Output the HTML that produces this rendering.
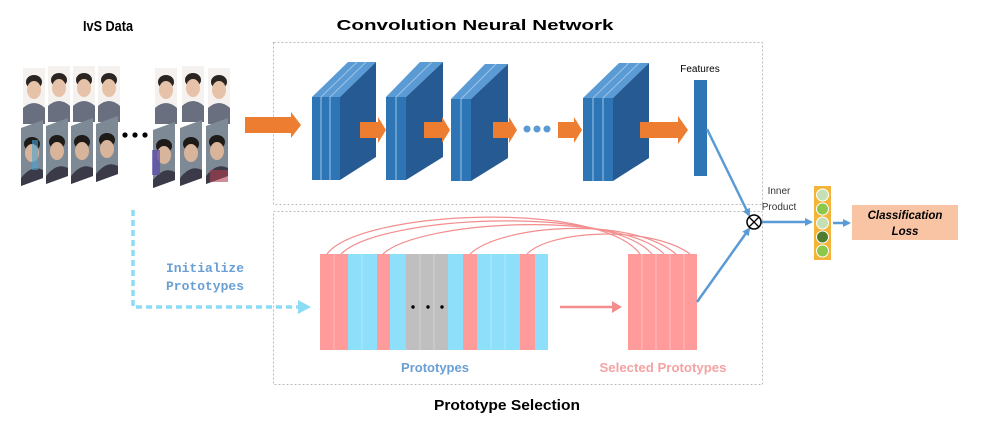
<!DOCTYPE html>
<html><head><meta charset="utf-8"><style>
html,body{margin:0;padding:0;background:#fff}
svg{display:block}
.s{font-family:"Liberation Sans",sans-serif}
.m{font-family:"Liberation Mono",monospace}
</style></head><body>
<svg width="1004" height="425" viewBox="0 0 1004 425" xmlns="http://www.w3.org/2000/svg">
<defs>
<marker id="ab" markerWidth="8" markerHeight="8" refX="6" refY="4" orient="auto" markerUnits="userSpaceOnUse"><path d="M0,0 L8,4 L0,8 z" fill="#5b9bd5"/></marker>
<g id="face">
<rect x="0" y="0" width="22" height="56" fill="#f4f1ee"/>
<ellipse cx="11" cy="14" rx="8" ry="7" fill="#2a2522"/>
<ellipse cx="11" cy="22" rx="7" ry="9" fill="#e6c2a8"/>
<path d="M0,40 Q11,30 22,40 L22,56 L0,56 z" fill="#6a6f80"/>
</g>
<g id="face2">
<path d="M0,8 L22,0 L22,58 L0,66 z" fill="#7d8a96"/>
<ellipse cx="11" cy="24" rx="8" ry="7" fill="#1d1a18"/>
<ellipse cx="11" cy="33" rx="7" ry="9" fill="#d8b49a"/>
<path d="M0,58 Q11,44 22,50 L22,58 L0,66 z" fill="#3a3a48"/>
</g>
</defs>

<g class="s">
<text x="108" y="31" font-size="15" font-weight="bold" text-anchor="middle" textLength="50" lengthAdjust="spacingAndGlyphs">IvS Data</text>
<text x="475" y="30" font-size="15" font-weight="bold" text-anchor="middle" textLength="277" lengthAdjust="spacingAndGlyphs">Convolution Neural Network</text>
<text x="507" y="410" font-size="15" font-weight="bold" text-anchor="middle" textLength="146" lengthAdjust="spacingAndGlyphs">Prototype Selection</text>
</g>

<g>
<use href="#face" x="23" y="68"/><use href="#face" x="48" y="66"/><use href="#face" x="73" y="66"/><use href="#face" x="98" y="66"/>
<use href="#face2" x="21" y="120"/><use href="#face2" x="46" y="118"/><use href="#face2" x="71" y="118"/><use href="#face2" x="96" y="116"/>
<use href="#face" x="155" y="68"/><use href="#face" x="182" y="66"/><use href="#face" x="208" y="68"/>
<use href="#face2" x="153" y="122"/><use href="#face2" x="180" y="120"/><use href="#face2" x="206" y="118"/>
<rect x="32" y="140" width="6" height="30" fill="#4aa3d6" opacity=".6"/>
<rect x="152" y="150" width="8" height="25" fill="#5a49a8" opacity=".7"/>
<rect x="210" y="170" width="18" height="12" fill="#b04050" opacity=".6"/>
</g>
<circle cx="125" cy="135" r="2.6" fill="#000"/><circle cx="135" cy="135" r="2.6" fill="#000"/><circle cx="145" cy="135" r="2.6" fill="#000"/>

<rect x="273.5" y="42.5" width="489" height="162" fill="none" stroke="#bbb" stroke-dasharray="2,2"/>
<rect x="273.5" y="211.5" width="489" height="173" fill="none" stroke="#bbb" stroke-dasharray="2,2"/>

<!-- conv blocks -->
<path d="M312,97 L348,62 L376,62 L340,97 z" fill="#5b9bd5"/>
<path d="M340,97 L376,62 L376,157 L340,180 z" fill="#255b92"/>
<rect x="312" y="97" width="28" height="83" fill="#2e75b6"/>
<path d="M321,97 V180 M330,97 V180 M321,97 L357,62 M330,97 L366,62" stroke="#9dc3e6" stroke-width="1"/>
<path d="M386,97 L420,62 L443,62 L406,97 z" fill="#5b9bd5"/>
<path d="M406,97 L443,62 L443,157 L406,180 z" fill="#255b92"/>
<rect x="386" y="97" width="20" height="83" fill="#2e75b6"/>
<path d="M396,97 V180 M396,97 L432,62" stroke="#9dc3e6"/>
<path d="M451,99 L485,64 L508,64 L471,99 z" fill="#5b9bd5"/>
<path d="M471,99 L508,64 L508,158 L471,181 z" fill="#255b92"/>
<rect x="451" y="99" width="20" height="82" fill="#2e75b6"/>
<path d="M461,99 V181 M461,99 L496,64" stroke="#9dc3e6"/>
<path d="M583,98 L619,63 L649,63 L613,98 z" fill="#5b9bd5"/>
<path d="M613,98 L649,63 L649,158 L613,181 z" fill="#255b92"/>
<rect x="583" y="98" width="30" height="83" fill="#2e75b6"/>
<path d="M593,98 V181 M603,98 V181 M593,98 L629,63 M603,98 L639,63" stroke="#9dc3e6"/>

<!-- orange arrows (on top) -->
<g fill="#ed7d31">
<path d="M245,117 L291,117 L291,112 L301,125 L291,138 L291,133 L245,133 z"/>
<path d="M360,122 L378,122 L378,117 L386,130 L378,143 L378,138 L360,138 z"/>
<path d="M424,122 L442,122 L442,117 L450,130 L442,143 L442,138 L424,138 z"/>
<path d="M493,122 L509,122 L509,117 L517,130 L509,143 L509,138 L493,138 z"/>
<path d="M558,122 L574,122 L574,117 L582,130 L574,143 L574,138 L558,138 z"/>
<path d="M640,122 L678,122 L678,116 L688,130 L678,144 L678,138 L640,138 z"/>
</g>
<g fill="#5b9bd5"><circle cx="527" cy="129" r="3.5"/><circle cx="537" cy="129" r="3.5"/><circle cx="547" cy="129" r="3.5"/></g>

<rect x="694" y="80" width="13" height="96" fill="#2e75b6"/>
<text class="s" x="700" y="72" font-size="10" text-anchor="middle">Features</text>

<path d="M133,210 V307 H298" fill="none" stroke="#8ddcf5" stroke-width="3.5" stroke-dasharray="6,4"/>
<path d="M298,300 L311,307 L298,314 z" fill="#8ddcf5"/>
<text class="m" x="205" y="272" font-size="13" font-weight="bold" fill="#6a9fd4" text-anchor="middle">Initialize</text>
<text class="m" x="205" y="290" font-size="13" font-weight="bold" fill="#6a9fd4" text-anchor="middle">Prototypes</text>

<g>
<rect x="320" y="254" width="28" height="96" fill="#ff9b9b"/>
<rect x="348" y="254" width="29" height="96" fill="#8ee0fa"/>
<rect x="377" y="254" width="13" height="96" fill="#ff9b9b"/>
<rect x="390" y="254" width="16" height="96" fill="#8ee0fa"/>
<rect x="406" y="254" width="42" height="96" fill="#bfbfbf"/>
<rect x="448" y="254" width="15" height="96" fill="#8ee0fa"/>
<rect x="463" y="254" width="14" height="96" fill="#ff9b9b"/>
<rect x="477" y="254" width="43" height="96" fill="#8ee0fa"/>
<rect x="520" y="254" width="15" height="96" fill="#ff9b9b"/>
<rect x="535" y="254" width="13" height="96" fill="#8ee0fa"/>
<path d="M334,254V350 M362,254V350 M420,254V350 M434,254V350 M491,254V350 M505,254V350" stroke="#fff" stroke-opacity=".3"/>
</g>
<circle cx="413" cy="307" r="1.7" fill="#000"/><circle cx="428" cy="307" r="1.7" fill="#000"/><circle cx="442" cy="307" r="1.7" fill="#000"/>
<rect x="628" y="254" width="69" height="96" fill="#ff9b9b"/>
<path d="M642,254V350 M656,254V350 M670,254V350 M684,254V350" stroke="#fff" stroke-opacity=".35"/>
<path d="M560,307 H614" stroke="#f28e8e" stroke-width="2.5"/>
<path d="M612,301 L622,307 L612,313 z" fill="#f28e8e"/>

<g fill="none" stroke="#f28e8e" stroke-width="1.2">
<path d="M327,254 C360,210 600,200 640,254"/>
<path d="M341,254 C380,215 610,205 652,254"/>
<path d="M383,254 C420,220 620,210 664,254"/>
<path d="M470,254 C500,225 630,215 676,254"/>
<path d="M527,254 C550,230 650,225 690,254"/>
</g>

<text class="s" x="435" y="372" font-size="13" font-weight="bold" fill="#6a9fd4" text-anchor="middle">Prototypes</text>
<text class="s" x="663" y="372" font-size="13" font-weight="bold" fill="#f4a3a3" text-anchor="middle" textLength="127" lengthAdjust="spacingAndGlyphs">Selected Prototypes</text>

<g stroke="#5b9bd5" stroke-width="2.5" fill="none">
<path d="M707,129 L749,215" marker-end="url(#ab)"/>
<path d="M697,302 L749,229" marker-end="url(#ab)"/>
<path d="M761,222 L811,222" marker-end="url(#ab)"/>
<path d="M833,223 L849,223" marker-end="url(#ab)"/>
</g>
<circle cx="754" cy="222" r="7" fill="#fff" stroke="#000" stroke-width="1.5"/>
<path d="M749,217 L759,227 M759,217 L749,227" stroke="#000" stroke-width="1.3"/>
<text class="s" x="779" y="194" font-size="10" text-anchor="middle" fill="#333">Inner</text>
<text class="s" x="779" y="210" font-size="10" text-anchor="middle" fill="#333">Product</text>

<rect x="814" y="186" width="17" height="74" fill="#f2b53a"/>
<g stroke="#fff" stroke-width="1">
<circle cx="822.5" cy="195" r="6" fill="#c5e0b4"/>
<circle cx="822.5" cy="209" r="6" fill="#8cc84b"/>
<circle cx="822.5" cy="223" r="6" fill="#c5e0b4"/>
<circle cx="822.5" cy="237" r="6" fill="#4e7d30"/>
<circle cx="822.5" cy="251" r="6" fill="#8cc84b"/>
</g>

<rect x="852" y="205" width="106" height="35" fill="#f8c4a4"/>
<text class="s" x="905" y="219" font-size="11.5" font-weight="bold" font-style="italic" text-anchor="middle">Classification</text>
<text class="s" x="905" y="235" font-size="11.5" font-weight="bold" font-style="italic" text-anchor="middle">Loss</text>
</svg>
</body></html>
